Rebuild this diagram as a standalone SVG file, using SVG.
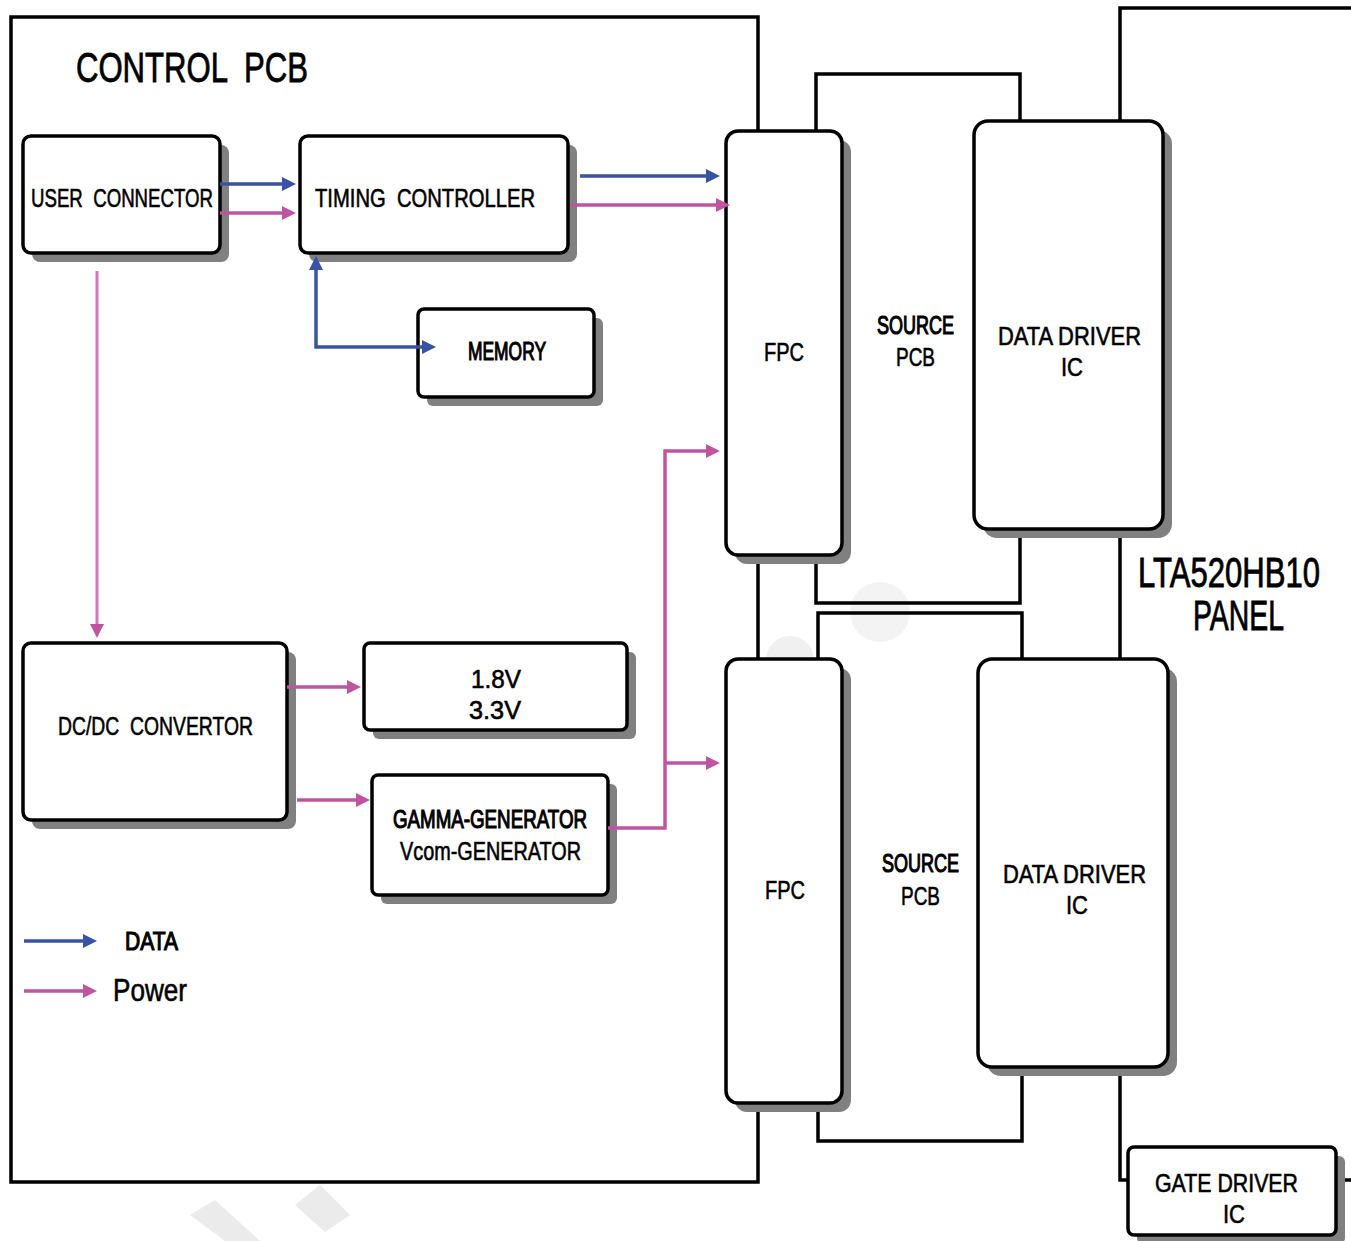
<svg xmlns="http://www.w3.org/2000/svg" width="1351" height="1241" viewBox="0 0 1351 1241">
<defs>
<style>
.sh{fill:#808080;stroke:none}
.bx{fill:#fff;stroke:#000;stroke-width:3.5}
.ln{fill:none;stroke:#000;stroke-width:3.5}
.t{font-family:"Liberation Sans",Arial,sans-serif;font-size:26px;fill:#000;stroke:#000;stroke-width:0.6;white-space:pre}
.b{stroke-width:1.2}
.big{font-size:42px;stroke-width:0.8}
.pn{font-size:30px;stroke-width:0.6}
.blue{fill:none;stroke:#3953a4;stroke-width:3.5}
.pink{fill:none;stroke:#bf55a0;stroke-width:3.5}
.pinkl{fill:none;stroke:#cf7ab8;stroke-width:3}
.wm{fill:#ebebeb;stroke:none}
</style>
<marker id="ab" markerUnits="userSpaceOnUse" markerWidth="16" markerHeight="16" refX="10" refY="7" orient="auto-start-reverse"><path d="M0,0 L14,7 L0,14 z" fill="#3953a4"/></marker>
<marker id="ap" markerUnits="userSpaceOnUse" markerWidth="16" markerHeight="16" refX="10" refY="7" orient="auto"><path d="M0,0 L14,7 L0,14 z" fill="#bf55a0"/></marker>
</defs>
<rect width="1351" height="1241" fill="#fff"/>
<g id="watermark">
<polygon class="wm" points="190,1215 215,1200 260,1241 225,1241"/>
<polygon class="wm" points="295,1205 320,1185 350,1215 325,1232"/>
<circle cx="790" cy="660" r="24" fill="#f0f0f0"/>
<circle cx="880" cy="612" r="30" fill="#f3f3f3"/>
</g>
<g id="control-pcb">
<rect class="ln" x="11" y="17" width="747" height="1165"/>
<text class="t big" x="76" y="82" textLength="232" lengthAdjust="spacingAndGlyphs">CONTROL  PCB</text>
</g>
<g id="panel">
<path class="ln" d="M1351,8 H1120 V1180 H1130 M1336,1180 H1351"/>
<text class="t pn" transform="translate(1138,587) scale(1,1.4)" x="0" y="0" textLength="182" lengthAdjust="spacingAndGlyphs">LTA520HB10</text>
<text class="t pn" transform="translate(1193,630) scale(1,1.4)" x="0" y="0" textLength="91" lengthAdjust="spacingAndGlyphs">PANEL</text>
</g>
<g id="source-pcb-1">
<rect class="ln" x="816" y="74" width="204" height="529"/>
<text class="t b" x="877" y="334" textLength="77" lengthAdjust="spacingAndGlyphs">SOURCE</text>
<text class="t" x="896" y="366" textLength="39" lengthAdjust="spacingAndGlyphs">PCB</text>
</g>
<g id="source-pcb-2">
<rect class="ln" x="818" y="613" width="204" height="528"/>
<text class="t b" x="882" y="872" textLength="77" lengthAdjust="spacingAndGlyphs">SOURCE</text>
<text class="t" x="901" y="905" textLength="39" lengthAdjust="spacingAndGlyphs">PCB</text>
</g>
<g id="user-connector">
<rect class="sh" x="32" y="145" width="197" height="117" rx="8"/>
<rect class="bx" x="23" y="136" width="197" height="117" rx="8"/>
<text class="t" x="31" y="207" textLength="182" lengthAdjust="spacingAndGlyphs">USER  CONNECTOR</text>
</g>
<g id="timing-controller">
<rect class="sh" x="309" y="145" width="268" height="117" rx="8"/>
<rect class="bx" x="300" y="136" width="268" height="117" rx="8"/>
<text class="t" x="315" y="207" textLength="220" lengthAdjust="spacingAndGlyphs">TIMING  CONTROLLER</text>
</g>
<g id="memory">
<rect class="sh" x="427" y="318" width="176" height="88" rx="6"/>
<rect class="bx" x="418" y="309" width="176" height="88" rx="6"/>
<text class="t b" x="468" y="360" textLength="78" lengthAdjust="spacingAndGlyphs">MEMORY</text>
</g>
<g id="dcdc">
<rect class="sh" x="32" y="652" width="264" height="177" rx="8"/>
<rect class="bx" x="23" y="643" width="264" height="177" rx="8"/>
<text class="t" x="58" y="735" textLength="195" lengthAdjust="spacingAndGlyphs">DC/DC  CONVERTOR</text>
</g>
<g id="voltages">
<rect class="sh" x="373" y="652" width="263" height="87" rx="6"/>
<rect class="bx" x="364" y="643" width="263" height="87" rx="6"/>
<text class="t" x="471" y="688" textLength="50" lengthAdjust="spacingAndGlyphs">1.8V</text>
<text class="t" x="469" y="719" textLength="52" lengthAdjust="spacingAndGlyphs">3.3V</text>
</g>
<g id="gamma">
<rect class="sh" x="381" y="784" width="236" height="120" rx="6"/>
<rect class="bx" x="372" y="775" width="236" height="120" rx="6"/>
<text class="t b" x="393" y="828" textLength="194" lengthAdjust="spacingAndGlyphs">GAMMA-GENERATOR</text>
<text class="t" x="400" y="860" textLength="181" lengthAdjust="spacingAndGlyphs">Vcom-GENERATOR</text>
</g>
<g id="fpc-1">
<rect class="sh" x="735" y="140" width="116" height="424" rx="12"/>
<rect class="bx" x="726" y="131" width="116" height="424" rx="12"/>
<text class="t" x="764" y="361" textLength="40" lengthAdjust="spacingAndGlyphs">FPC</text>
</g>
<g id="fpc-2">
<rect class="sh" x="735" y="668" width="116" height="444" rx="12"/>
<rect class="bx" x="726" y="659" width="116" height="444" rx="12"/>
<text class="t" x="765" y="899" textLength="40" lengthAdjust="spacingAndGlyphs">FPC</text>
</g>
<g id="data-driver-1">
<rect class="sh" x="983" y="130" width="189" height="408" rx="14"/>
<rect class="bx" x="974" y="121" width="189" height="408" rx="14"/>
<text class="t" x="998" y="345" textLength="143" lengthAdjust="spacingAndGlyphs">DATA DRIVER</text>
<text class="t" x="1061" y="376" textLength="22" lengthAdjust="spacingAndGlyphs">IC</text>
</g>
<g id="data-driver-2">
<rect class="sh" x="987" y="668" width="190" height="408" rx="14"/>
<rect class="bx" x="978" y="659" width="190" height="408" rx="14"/>
<text class="t" x="1003" y="883" textLength="143" lengthAdjust="spacingAndGlyphs">DATA DRIVER</text>
<text class="t" x="1066" y="914" textLength="22" lengthAdjust="spacingAndGlyphs">IC</text>
</g>
<g id="gate-driver">
<rect class="sh" x="1137" y="1156" width="208" height="88" rx="6"/>
<rect class="bx" x="1128" y="1147" width="208" height="88" rx="6"/>
<text class="t" x="1155" y="1192" textLength="143" lengthAdjust="spacingAndGlyphs">GATE DRIVER</text>
<text class="t" x="1223" y="1223" textLength="22" lengthAdjust="spacingAndGlyphs">IC</text>
</g>
<g id="connectors">
<path class="blue" d="M220,184 H292" marker-end="url(#ab)"/>
<path class="pink" d="M220,213 H292" marker-end="url(#ap)"/>
<path class="blue" d="M580,176 H716" marker-end="url(#ab)"/>
<path class="pink" d="M570,205 H726" marker-end="url(#ap)"/>
<path class="blue" d="M432,347 H316 V260" marker-start="url(#ab)" marker-end="url(#ab)"/>
<path class="pinkl" d="M97,271 V634" marker-end="url(#ap)"/>
<path class="pink" d="M287,687 H357" marker-end="url(#ap)"/>
<path class="pink" d="M297,800 H366" marker-end="url(#ap)"/>
<path class="pink" d="M608,828 H665 V451 H716" marker-end="url(#ap)"/>
<path class="pink" d="M665,763 H716" marker-end="url(#ap)"/>
</g>
<g id="legend">
<path class="blue" d="M24,941 H93" marker-end="url(#ab)"/>
<path class="pink" d="M24,991 H93" marker-end="url(#ap)"/>
<text class="t b" x="125" y="950" textLength="53" lengthAdjust="spacingAndGlyphs">DATA</text>
<text class="t" x="113" y="1001" textLength="74" lengthAdjust="spacingAndGlyphs" style="font-size:32px">Power</text>
</g>
</svg>
